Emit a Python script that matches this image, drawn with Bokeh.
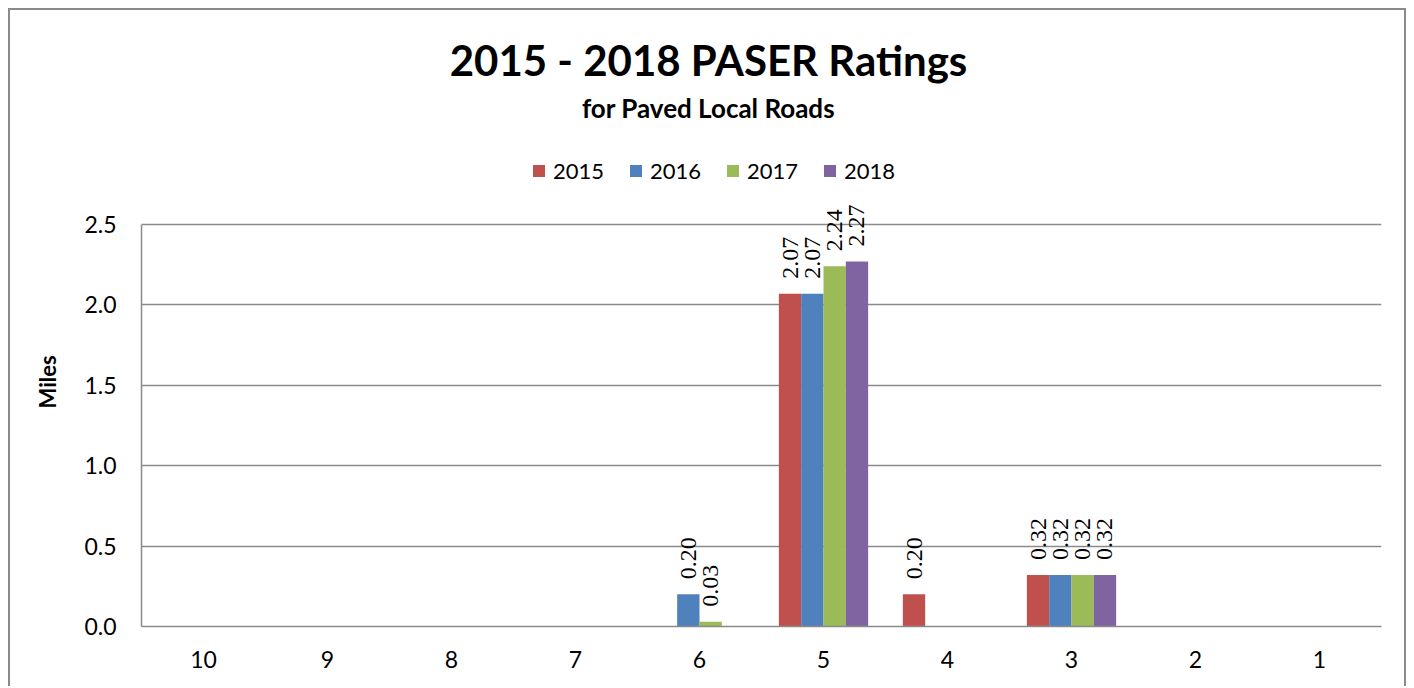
from bokeh.plotting import figure
from bokeh.models import (ColumnDataSource, FactorRange, Range1d, Label, LabelSet, Title,
                          Legend, LegendItem, SingleIntervalTicker, NumeralTickFormatter)
from bokeh.transform import dodge
from bokeh.embed import file_html
from bokeh.resources import INLINE

# ---- data ----
ratings = ["10", "9", "8", "7", "6", "5", "4", "3", "2", "1"]
years = ["2015", "2016", "2017", "2018"]
miles_2015 = [0, 0, 0, 0, 0, 2.07, 0.20, 0.32, 0, 0]
miles_2016 = [0, 0, 0, 0, 0.20, 2.07, 0, 0.32, 0, 0]
miles_2017 = [0, 0, 0, 0, 0.03, 2.24, 0, 0.32, 0, 0]
miles_2018 = [0, 0, 0, 0, 0, 2.27, 0, 0.32, 0, 0]
colors = ["#C0504D", "#4F81BD", "#9BBB59", "#8064A2"]
title_text = "2015 - 2018 PASER Ratings"
subtitle_text = "for Paved Local Roads"
y_label = "Miles"
y_axis_max = 2.5

series = [miles_2015, miles_2016, miles_2017, miles_2018]
FONT = "Lato"

# layout (pixels)
CANVAS_H = 678
FRAME_TOP_PAD = 214      # space between canvas top and the 2.5 gridline
FRAME_BOTTOM = 62
plot_h = CANVAS_H - FRAME_BOTTOM
axis_h = plot_h - FRAME_TOP_PAD
y_end = y_axis_max * plot_h / axis_h   # frame extends up to the canvas top

p = figure(x_range=FactorRange(*ratings), y_range=Range1d(0, y_end),
           width=1398, height=CANVAS_H, output_backend="svg", toolbar_location=None,
           min_border_left=131, min_border_right=27, min_border_top=0,
           min_border_bottom=FRAME_BOTTOM)
p.title = None
p.styles = {"border-top": "2px solid #8a8a8a", "border-left": "2px solid #8a8a8a",
            "border-right": "2px solid #8a8a8a", "margin-left": "8px",
            "margin-top": "8px"}
p.outline_line_color = None
p.background_fill_color = "white"
p.border_fill_color = "white"

bar_w = 0.18
offsets = [-0.27, -0.09, 0.09, 0.27]
legend_items = []
for yr, vals, col, off in zip(years, series, colors, offsets):
    src = ColumnDataSource(dict(cat=ratings, v=vals))
    r = p.vbar(x=dodge("cat", off, range=p.x_range), top="v", width=bar_w,
               source=src, fill_color=col, line_color=None)
    legend_items.append(LegendItem(label=yr, renderers=[r]))
    nz = [(c, v) for c, v in zip(ratings, vals) if v > 0]
    lsrc = ColumnDataSource(dict(cat=[c for c, _ in nz], v=[v for _, v in nz],
                                 t=["%.2f" % v for _, v in nz]))
    p.add_layout(LabelSet(x=dodge("cat", off, range=p.x_range), y="v", text="t",
                          source=lsrc, angle=90, angle_units="deg", y_offset=15,
                          text_align="left", text_baseline="middle",
                          text_font=FONT, text_font_size="24px", text_color="black"))

# axes
p.yaxis.ticker = SingleIntervalTicker(interval=0.5)
p.yaxis.formatter = NumeralTickFormatter(format="0.0")
p.yaxis.bounds = (0, y_axis_max)
p.yaxis.major_label_standoff = 19
for ax in (p.xaxis, p.yaxis):
    ax.major_label_text_font = FONT
    ax.major_label_text_font_size = "23px"
    ax.major_label_text_color = "black"
    ax.major_tick_line_color = None
    ax.minor_tick_line_color = None
    ax.axis_line_color = "#8a8a8a"
    ax.axis_line_width = 1.5
p.xaxis.major_label_standoff = 18

# y-axis title, placed along the axis
p.add_layout(Title(text=y_label, align="left", offset=218, standoff=41,
                   text_font=FONT, text_font_style="bold", text_font_size="22px",
                   text_color="black"), "left")

p.xgrid.grid_line_color = None
p.ygrid.grid_line_color = "#8a8a8a"
p.ygrid.grid_line_width = 1.5
p.ygrid.bounds = (0, y_axis_max)

# titles (screen units relative to the frame's bottom-left corner)
p.add_layout(Label(x=567, y=567, x_units="screen", y_units="screen", text=title_text,
                   text_align="center", text_baseline="alphabetic", text_font=FONT,
                   text_font_style="bold", text_font_size="42px", text_color="black"))
p.add_layout(Label(x=567, y=519, x_units="screen", y_units="screen", text=subtitle_text,
                   text_align="center", text_baseline="alphabetic", text_font=FONT,
                   text_font_style="bold", text_font_size="26px", text_color="black"))

legend = Legend(items=legend_items, orientation="horizontal", location=(390, 442),
                padding=0, spacing=0, margin=0, glyph_width=15, glyph_height=15,
                label_standoff=7, label_width=75, label_text_font=FONT,
                label_text_font_size="22px", label_text_color="black",
                border_line_color=None, background_fill_alpha=0)
p.add_layout(legend)

open("out.html", "w").write(file_html(p, INLINE))
